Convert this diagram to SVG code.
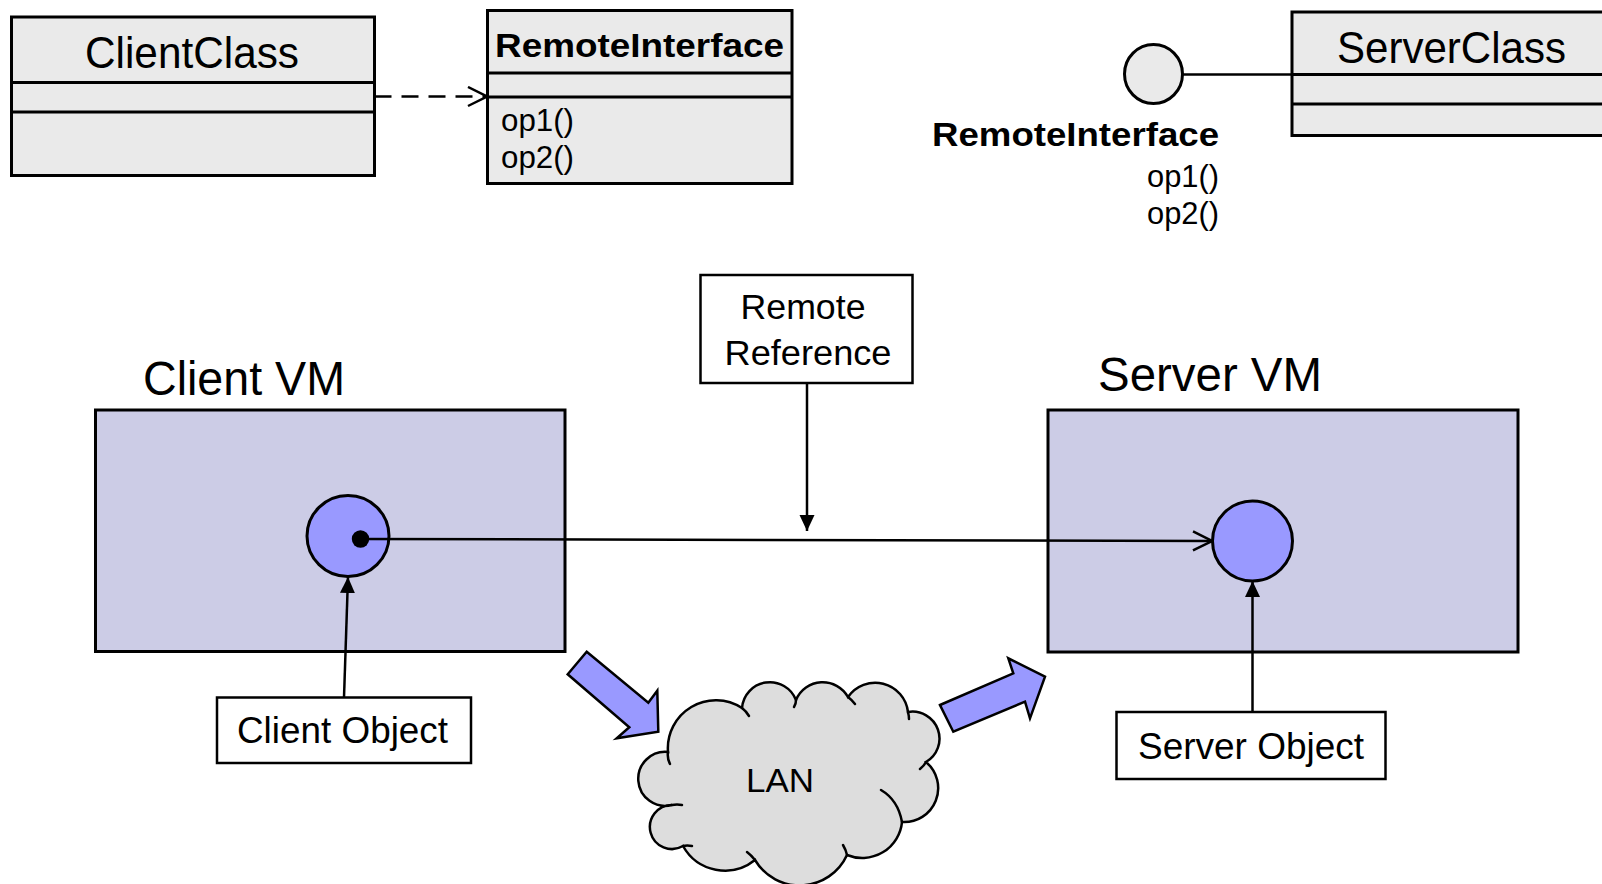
<svg xmlns="http://www.w3.org/2000/svg" width="1602" height="884" viewBox="0 0 1602 884">
  <style>
    text { font-family: "Liberation Sans", Arial, sans-serif; fill: #000; }
    .cls { fill: #EAEAEA; stroke: #000; stroke-width: 3; }
    .div { stroke: #000; stroke-width: 3; fill: none; }
    .vm { fill: #CCCCE6; stroke: #000; stroke-width: 3; }
    .obj { fill: #9999FF; stroke: #000; stroke-width: 3; }
    .lbl { fill: #FFFFFF; stroke: #000; stroke-width: 2.5; }
    .conn { stroke: #000; stroke-width: 2.5; fill: none; }
    .block { fill: #9999FF; stroke: #000; stroke-width: 2.5; stroke-linejoin: miter; }
    .cloud { fill: #DDDDDD; stroke: #000; stroke-width: 2.5; }
    .hook { fill: none; stroke: #000; stroke-width: 2.5; stroke-linecap: round; }
  </style>
  <defs>
    <marker id="filled" viewBox="0 0 16 16" refX="16" refY="8" markerWidth="16" markerHeight="16" markerUnits="userSpaceOnUse" orient="auto">
      <path d="M0,0.5 L16,8 L0,15.5 Z" fill="#000"/>
    </marker>
    <marker id="open" viewBox="0 0 22 22" refX="20" refY="11" markerWidth="22" markerHeight="22" markerUnits="userSpaceOnUse" orient="auto">
      <path d="M1,1.5 L20,11 L1,20.5" fill="none" stroke="#000" stroke-width="2.5"/>
    </marker>
  </defs>

  <!-- class diagram: client side -->
  <g id="client-class">
    <rect class="cls" x="11.5" y="17" width="363" height="158.5"/>
    <line class="div" x1="11.5" y1="82.5" x2="374.5" y2="82.5"/>
    <line class="div" x1="11.5" y1="112" x2="374.5" y2="112"/>
    <text x="192" y="68.3" font-size="44" text-anchor="middle" textLength="214" lengthAdjust="spacingAndGlyphs">ClientClass</text>
  </g>

  <g id="remote-interface">
    <rect class="cls" x="487.5" y="10.5" width="304.5" height="173"/>
    <line class="div" x1="487.5" y1="73" x2="792" y2="73"/>
    <line class="div" x1="487.5" y1="97" x2="792" y2="97"/>
    <text x="495" y="56.7" font-size="34" font-weight="bold" textLength="289" lengthAdjust="spacingAndGlyphs">RemoteInterface</text>
    <text x="501" y="131" font-size="31" textLength="73" lengthAdjust="spacingAndGlyphs">op1()</text>
    <text x="501" y="167.5" font-size="31" textLength="73" lengthAdjust="spacingAndGlyphs">op2()</text>
  </g>

  <!-- class diagram: server side -->
  <g id="server-class">
    <rect class="cls" x="1292" y="12" width="330" height="123.5"/>
    <line class="div" x1="1292" y1="74.5" x2="1622" y2="74.5"/>
    <line class="div" x1="1292" y1="104" x2="1622" y2="104"/>
    <text x="1337" y="63" font-size="44" textLength="229" lengthAdjust="spacingAndGlyphs">ServerClass</text>
  </g>

  <g id="interface-lollipop">
    <ellipse cx="1153.5" cy="74" rx="29" ry="29.5" fill="#EAEAEA" stroke="#000" stroke-width="3"/>
    <text x="932" y="146" font-size="34" font-weight="bold" textLength="287" lengthAdjust="spacingAndGlyphs">RemoteInterface</text>
    <text x="1147" y="187" font-size="31" textLength="72" lengthAdjust="spacingAndGlyphs">op1()</text>
    <text x="1147" y="224" font-size="31" textLength="72" lengthAdjust="spacingAndGlyphs">op2()</text>
  </g>

  <!-- runtime view -->
  <g id="client-vm">
    <text x="143" y="395" font-size="48" textLength="202" lengthAdjust="spacingAndGlyphs">Client VM</text>
    <rect class="vm" x="95.5" y="410" width="469.5" height="241.5"/>
  </g>

  <g id="server-vm">
    <text x="1098" y="391" font-size="48" textLength="224" lengthAdjust="spacingAndGlyphs">Server VM</text>
    <rect class="vm" x="1048" y="410" width="470" height="242"/>
  </g>

  <g id="client-object">
    <ellipse class="obj" cx="348" cy="536" rx="41" ry="40.5"/>
    <circle cx="360.5" cy="539" r="8.7" fill="#000"/>
  </g>

  <g id="server-object">
    <ellipse class="obj" cx="1252.5" cy="541" rx="40" ry="40"/>
  </g>

  <g id="remote-reference-label">
    <rect class="lbl" x="700.5" y="275" width="212" height="108"/>
    <text x="803" y="319" font-size="35" text-anchor="middle" textLength="125" lengthAdjust="spacingAndGlyphs">Remote</text>
    <text x="808" y="365" font-size="35" text-anchor="middle" textLength="167" lengthAdjust="spacingAndGlyphs">Reference</text>
  </g>

  <g id="client-object-label">
    <rect class="lbl" x="217" y="697.5" width="254" height="65.5"/>
    <text x="237" y="743.3" font-size="36" textLength="211" lengthAdjust="spacingAndGlyphs">Client Object</text>
  </g>

  <g id="server-object-label">
    <rect class="lbl" x="1116.5" y="712" width="269" height="67"/>
    <text x="1138" y="759" font-size="36" textLength="226" lengthAdjust="spacingAndGlyphs">Server Object</text>
  </g>

  <g id="lan">
    <path class="cloud" d="M668,752
      A48,48 0 0 1 742,708
      A28,28 0 0 1 796,700
      A29,29 0 0 1 848,697
      A33,33 0 0 1 908,712
      A27,27 0 0 1 926,762
      A34,34 0 0 1 902,822
      A40,40 0 0 1 847,855
      A52,52 0 0 1 755,860
      A48,48 0 0 1 683,846
      A22,22 0 1 1 672,805
      A27,27 0 1 1 668,752 Z"/>
    <path class="hook" d="M668,752 Q667,758 670,764"/>
    <path class="hook" d="M742,708 Q746,711 749,716"/>
    <path class="hook" d="M796,700 Q796,704 794,707"/>
    <path class="hook" d="M848,697 Q852,700 855,704"/>
    <path class="hook" d="M908,712 Q909,716 909,719"/>
    <path class="hook" d="M926,762 Q924,766 920,769"/>
    <path class="hook" d="M881,790 Q898,800 902,822"/>
    <path class="hook" d="M847,855 Q846,850 843,845"/>
    <path class="hook" d="M755,860 Q751,855 747,852"/>
    <path class="hook" d="M683,846 Q687,845 692,846"/>
    <path class="hook" d="M672,805 Q677,804 682,805"/>
    <text x="746" y="792" font-size="34" textLength="68" lengthAdjust="spacingAndGlyphs">LAN</text>
  </g>

  <!-- connectors -->
  <g id="connectors">
    <line class="conn" x1="374.5" y1="96.5" x2="487" y2="96.5" stroke-dasharray="17 10" marker-end="url(#open)"/>
    <line class="conn" x1="1182.5" y1="74.5" x2="1292" y2="74.5" stroke-width="3"/>
    <line class="conn" x1="807" y1="383" x2="807" y2="531" marker-end="url(#filled)"/>
    <line class="conn" x1="361" y1="539" x2="1212" y2="541" stroke-width="3" marker-end="url(#open)"/>
    <line class="conn" x1="344" y1="697.5" x2="348" y2="577" marker-end="url(#filled)"/>
    <line class="conn" x1="1252.5" y1="712" x2="1252.5" y2="581" marker-end="url(#filled)"/>
    <polygon class="block" points="586.7,651.7 648.3,702.7 657.3,690.7 658.3,731.7 616.7,738.3 629.3,727.3 567.7,674.3"/>
    <polygon class="block" points="940,705 1013.3,673.3 1008.3,658.3 1045,676.7 1030,718.3 1025,701.7 953.3,731.7"/>
  </g>
</svg>
